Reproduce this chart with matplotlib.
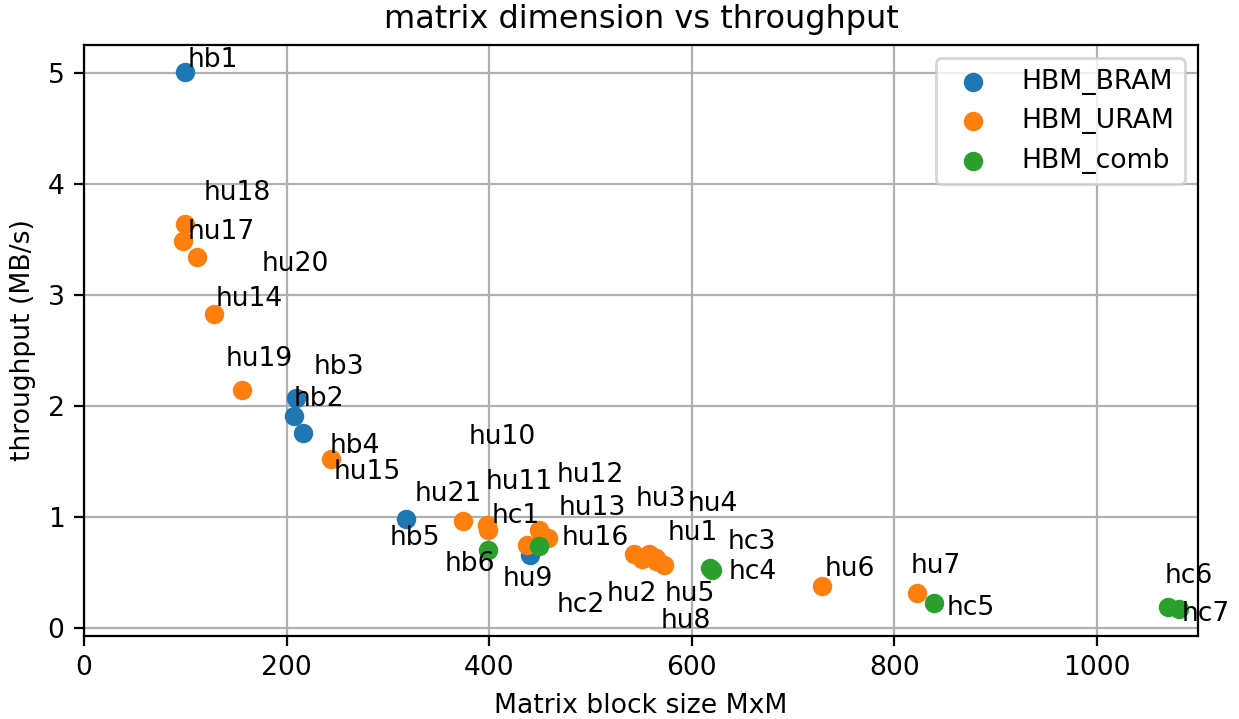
import matplotlib
matplotlib.use('Agg')
import matplotlib.pyplot as plt

plt.rcParams['font.size'] = 9.6

# HBM_BRAM
bram_names = ['hb1', 'hb2', 'hb3', 'hb4', 'hb5', 'hb6']
bram_size = [100, 207, 209, 216, 318, 440]
bram_tp = [5.01, 1.91, 2.07, 1.76, 0.98, 0.66]

# HBM_URAM
uram_names = ['hu1', 'hu2', 'hu3', 'hu4', 'hu5', 'hu6', 'hu7', 'hu8', 'hu9', 'hu10', 'hu11',
              'hu12', 'hu13', 'hu14', 'hu15', 'hu16', 'hu17', 'hu18', 'hu19', 'hu20', 'hu21']
uram_size = [565, 543, 558, 573, 551, 729, 822, 565, 437, 398, 399,
             449, 458, 128, 244, 452, 98, 100, 156, 112, 374]
uram_tp = [0.63, 0.67, 0.67, 0.57, 0.62, 0.38, 0.32, 0.60, 0.75, 0.93, 0.88,
           0.88, 0.81, 2.83, 1.52, 0.84, 3.49, 3.64, 2.14, 3.34, 0.96]

# HBM_comb
comb_names = ['hc1', 'hc2', 'hc3', 'hc4', 'hc5', 'hc6', 'hc7']
comb_size = [399, 449, 618, 620, 839, 1070, 1081]
comb_tp = [0.70, 0.74, 0.54, 0.52, 0.23, 0.19, 0.17]

# where the labels ended up (data coords), after spreading them apart
label_pos = {
    'hb1': (102, 5.05), 'hb2': (207, 2.00), 'hb3': (227, 2.29), 'hb4': (243, 1.58),
    'hb5': (302, 0.75), 'hb6': (356, 0.51),
    'hu1': (576, 0.79), 'hu2': (516, 0.24), 'hu3': (545, 1.10), 'hu4': (596, 1.05),
    'hu5': (573, 0.24), 'hu6': (731, 0.47), 'hu7': (816, 0.50), 'hu8': (569, 0.00),
    'hu9': (413, 0.38), 'hu10': (380, 1.66), 'hu11': (397, 1.25), 'hu12': (467, 1.32),
    'hu13': (469, 1.02), 'hu14': (130, 2.90), 'hu15': (246, 1.34), 'hu16': (472, 0.75),
    'hu17': (102, 3.50), 'hu18': (118, 3.86), 'hu19': (140, 2.36), 'hu20': (175, 3.22),
    'hu21': (326, 1.14),
    'hc1': (402, 0.95), 'hc2': (467, 0.14), 'hc3': (635, 0.71), 'hc4': (636, 0.44),
    'hc5': (852, 0.12), 'hc6': (1067, 0.41), 'hc7': (1084, 0.06),
}

fig = plt.figure(figsize=(6.195, 3.595), dpi=200)
ax = fig.add_subplot(111)
fig.subplots_adjust(left=0.0678, right=0.967, top=0.9374, bottom=0.1154)

ax.scatter(bram_size, bram_tp, label='HBM_BRAM', zorder=3)
ax.scatter(uram_size, uram_tp, label='HBM_URAM', zorder=3)
ax.scatter(comb_size, comb_tp, label='HBM_comb', zorder=3)

for names in (bram_names, uram_names, comb_names):
    for n in names:
        x, y = label_pos[n]
        ax.text(x, y, n, ha='left', va='baseline', zorder=4)

ax.set_xlim(0, 1100)
ax.set_title('matrix dimension vs throughput')
ax.set_xlabel('Matrix block size MxM')
ax.set_ylabel('throughput (MB/s)')
ax.grid(True)
ax.set_axisbelow(True)
ax.legend(loc='upper right')

fig.savefig('out.png', dpi=200)
